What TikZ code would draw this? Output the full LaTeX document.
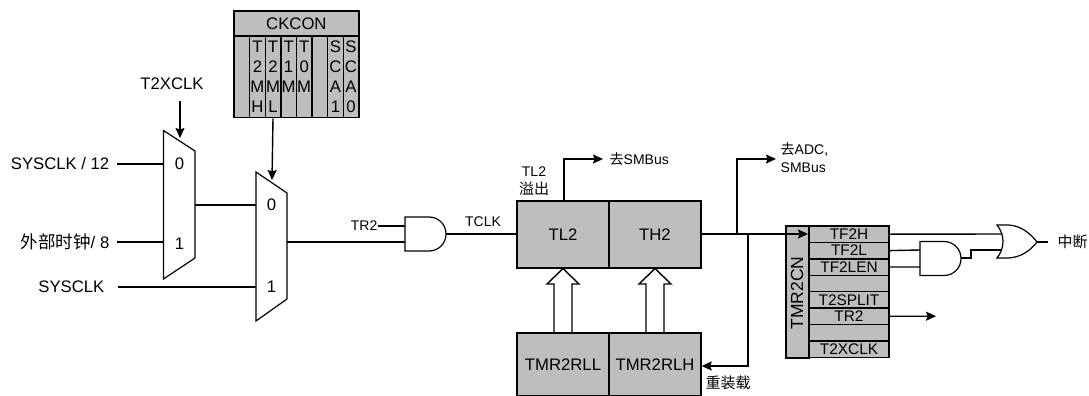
\documentclass[tikz,border=0pt]{standalone}
\usepackage{fontspec}
\setmainfont{Liberation Sans}
\newfontfamily\cjk{Noto Sans CJK SC}
\usetikzlibrary{arrows.meta}
\begin{document}
\begin{tikzpicture}[
        x=1pt, y=-1pt,
        line width=1.4pt,
        >={Stealth[length=10pt,width=9pt,inset=1.5pt]},
        txt/.style={inner sep=0pt, font=\fontsize{16.7}{20}\selectfont},
        small/.style={inner sep=0pt, font=\fontsize{14}{18}\selectfont},
        regbox/.style={draw, fill=boxgray, inner sep=0pt, minimum width=92pt, font=\fontsize{16.7}{20}\selectfont},
        ckcell/.style={draw, fill=boxgray, inner sep=0pt, minimum width=15.6pt, minimum height=81pt, anchor=north},
        bitcell/.style={draw, fill=boxgray, inner sep=0pt, minimum width=80pt, minimum height=16.4pt, font=\fontsize{15.4}{16}\selectfont},
        andgate/.pic={
            \draw[line width=1.2pt] (0,-17) -- (24,-17) .. controls (33.5,-17) and (41,-9.5) .. (41,0)
                .. controls (41,9.5) and (33.5,17) .. (24,17) -- (0,17) -- cycle;
        },
    ]
    \definecolor{boxgray}{gray}{0.745}
    \useasboundingbox (0,0) rectangle (1089,396);
    % 选择器
    \draw[line width=1.2pt] (163.5,130.5) -- (195,151) -- (195,258) -- (163.5,279) -- cycle;
    \draw[line width=1.2pt] (256,172) -- (287,193) -- (287,299) -- (256,321) -- cycle;
    \node[txt] (m1a) at (179.5,164) {0};
    \node[txt] (m1b) at (179.5,244) {1};
    \node[txt] (m2a) at (271.5,205) {0};
    \node[txt] (m2b) at (271.5,287) {1};
    \coordinate (m1in0) at (163.5,164);
    \coordinate (m1in1) at (163.5,242);
    \coordinate (m1sel) at (180,138);
    \coordinate (m1out) at (195,205);
    \coordinate (m2in0) at (256,205);
    \coordinate (m2in1) at (256,287);
    \coordinate (m2sel) at (272,180);
    \coordinate (m2out) at (287,242);
    % 左边的输入
    \node[txt, anchor=east] (sysdiv) at (110,164) {SYSCLK / 12};
    \node[txt, anchor=east] (extclk) at (110,242) {{\cjk\fontsize{17.5}{20}\selectfont 外部时钟}/ 8};
    \node[txt, anchor=east] (sysclk) at (105,287) {SYSCLK};
    \node[txt] (t2xclk) at (172,84) {T2XCLK};
    \coordinate (sysdive) at (117,164);
    \coordinate (extclke) at (117,242);
    \coordinate (sysclke) at (118,287);
    \coordinate (t2xe) at (180,101);
    \draw (sysdive) -- (m1in0);
    \draw (extclke) -- (m1in1);
    \draw (sysclke) -- (m2in1);
    \draw[->] (t2xe) -- (m1sel);
    \draw (m1out) -- (m2in0);
    % CKCON
    \node[draw, fill=boxgray, inner sep=0pt, minimum width=124.8pt, minimum height=25pt, txt] (ckcon) at (296.4,23.5) {CKCON};
    \foreach \i/\bits in {1/{},2/{T\\2\\M\\H},3/{T\\2\\M\\L},4/{T\\1\\M},5/{T\\0\\M},6/{},7/{S\\C\\A\\1},8/{S\\C\\A\\0}}{
        \node[ckcell] (ckcol\i) at ({234+15.6*(\i-0.5)},36) {};
        \node[txt, anchor=north, align=center] (cktxt\i) at ({234+15.6*(\i-0.5)},40.5) {\bits};
    }
    \draw[->] (ckcol3.south) -- (m2sel);
    % 与门 TR2
    \pic at (405,234) {andgate};
    \coordinate (andain) at (405,242);
    \coordinate (andatr) at (405,226);
    \coordinate (andaout) at (446,234);
    \node[small, anchor=east] (tr2in) at (378,226) {TR2};
    \draw (m2out) -- (andain);
    \draw (tr2in.east) -- (andatr);
    \node[small] (tclk) at (483,222) {TCLK};
    % 定时器寄存器
    \node[regbox, minimum height=67pt] (tl2) at (563,234.5) {TL2};
    \node[regbox, minimum height=67pt] (th2) at (655,234.5) {TH2};
    \node[regbox, minimum height=63pt] (rll) at (563,364.5) {TMR2RLL};
    \node[regbox, minimum height=63pt] (rlh) at (655,364.5) {TMR2RLH};
    \draw (andaout) -- (tl2.west |- andaout);
    % 空心箭头
    \foreach \c in {563,655}{
        \draw (\c-9,333) -- (\c-9,284) -- (\c-16,284) -- (\c,268.5) -- (\c+16,284) -- (\c+9,284) -- (\c+9,333);
    }
    % TL2 溢出
    \node[small, align=center] (ovf) at (534,181) {TL2\\{\cjk\fontsize{15}{18}\selectfont 溢出}};
    \coordinate (ovfup) at (564,159);
    \node[small, anchor=west] (tosmb) at (609,159) {{\cjk 去}SMBus};
    \draw[->] (564,201) -- (ovfup) -- (603,159);
    % TH2 输出
    \coordinate (jadc) at (737,234);
    \coordinate (jrel) at (748,234);
    \node[small, anchor=west, align=left] (toadc) at (780,158) {{\cjk 去}ADC,\\SMBus};
    \draw[->] (th2.east |- jadc) -- (808,234);
    \draw[->] (jadc) -- (737,159) -- (776,159);
    \draw[->] (jrel) -- (748,366) -- (rlh.east |- 0,366);
    \node[small, anchor=west] (reload) at (705,383) {\cjk\fontsize{15}{18}\selectfont 重装载};
    % TMR2CN
    \node[draw, fill=boxgray, inner sep=0pt, minimum width=23pt, minimum height=132pt] (tmrcn) at (797.5,292) {};
    \node[txt, rotate=90, font=\fontsize{17.5}{20}\selectfont] (tmrtxt) at (797,293) {TMR2CN};
    \foreach \i/\bit in {0/TF2H,1/TF2L,3/,4/T2SPLIT,6/,7/T2XCLK,2/TF2LEN,5/TR2}{
        \node[bitcell] (bit\i) at (849,{234.2+16.4*\i}) {\bit};
    }
    \draw[->] (jrel) -- (808,234);
    % 与门和或门
    \pic at (920,258.5) {andgate};
    \coordinate (andbin) at (920,250);
    \coordinate (andbinb) at (920,267);
    \coordinate (andbout) at (961,258);
    \draw (bit1.east) -- (andbin);
    \draw (bit2.east) -- (andbinb);
    \draw[line width=1.2pt] (997,225) -- (1009,225) .. controls (1021,226) and (1030,233) .. (1037,242)
        .. controls (1030,251) and (1021,257) .. (1009,258) -- (997,258)
        .. controls (1005,248) and (1005,235) .. (997,225) -- cycle;
    \coordinate (orina) at (1002,234);
    \coordinate (orinb) at (1002,250);
    \coordinate (orout) at (1037,242);
    \draw (bit0.east) -- (orina);
    \draw (andbout) -- (971,258) -- (971,250) -- (orinb);
    \node[small, anchor=west] (intr) at (1057,242) {\cjk\fontsize{15}{18}\selectfont 中断};
    \coordinate (intre) at (1048,242);
    \draw (orout) -- (intre);
    \draw[->] (bit5.east) -- (936,316.2);
\end{tikzpicture}
\end{document}
